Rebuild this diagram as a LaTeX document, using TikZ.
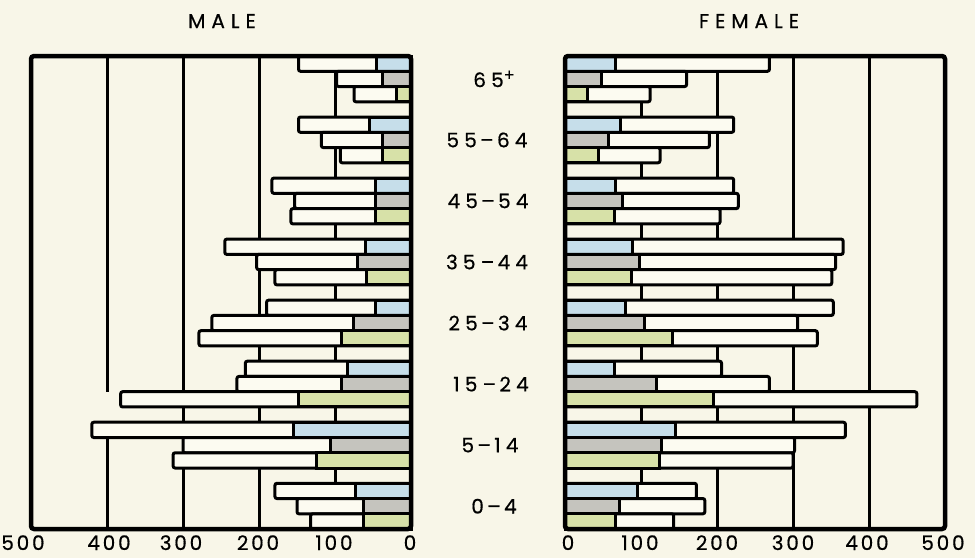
\documentclass[tikz,border=0pt]{standalone}
\usepackage{fontspec}
\setmainfont{Poppins}
\newfontfamily\chartfont[LetterSpace=14, FakeBold=0.6]{Poppins}
\newfontfamily\agefont[LetterSpace=26, FakeBold=0.6]{Poppins}
\newfontfamily\titlefont[LetterSpace=30, FakeBold=0.6]{Poppins}

\definecolor{paper}{RGB}{248,246,232}
\definecolor{barfill}{RGB}{252,251,241}
\definecolor{blueseg}{RGB}{198,222,234}
\definecolor{greyseg}{RGB}{197,196,190}
\definecolor{greenseg}{RGB}{215,225,168}

\tikzstyle{frame} = [line width=4.5pt, rounded corners=3pt, draw=black]
\tikzstyle{gridline} = [line width=3pt, draw=black]
\tikzstyle{bar} = [line width=3pt, rounded corners=2pt, draw=black, fill=barfill]
\tikzstyle{segment} = [line width=3pt, draw=black]
\tikzstyle{agelabel} = [font=\agefont\fontsize{20}{24}\selectfont, inner sep=0pt]
\tikzstyle{axislabel} = [font=\chartfont\fontsize{20}{24}\selectfont, inner sep=0pt, anchor=base]
\tikzstyle{title} = [font=\titlefont\fontsize{20}{24}\selectfont, inner sep=0pt, anchor=base]

\def\rowh{15.26}

\begin{document}
\begin{tikzpicture}[x=1pt, y=-1pt]
 \useasboundingbox[fill=paper] (0,0) rectangle (975,558);

 % grid lines, male side (0 at x=411)
 \foreach \v in {100,200,300}
  \draw[gridline] ({411-0.76*\v},56) -- ({411-0.76*\v},529);
 \draw[gridline] (107,56) -- (107,{56+22*\rowh});
 \draw[gridline] (107,{56+24*\rowh}) -- (107,529);
 % grid lines, female side (0 at x=565)
 \foreach \v in {100,200,300,400}
  \draw[gridline] ({565+0.76*\v},56) -- ({565+0.76*\v},529);

 % male bars: row / total / coloured part / colour
 \foreach \r/\t/\c/\col in {
   0/148/45/blueseg, 1/98/38/greyseg, 2/75/19/greenseg,
   4/148/54/blueseg, 5/118/38/greyseg, 6/93/38/greenseg,
   8/183/47/blueseg, 9/153/47/greyseg, 10/158/47/greenseg,
   12/245/60/blueseg, 13/203/70/greyseg, 14/179/58/greenseg,
   16/190/47/blueseg, 17/262/76/greyseg, 18/279/91/greenseg,
   20/218/84/blueseg, 21/229/91/greyseg, 22/382/148/greenseg,
   24/420/155/blueseg, 25/300/106/greyseg, 26/313/124/greenseg,
   28/179/73/blueseg, 29/150/63/greyseg, 30/132/63/greenseg} {
  \draw[bar] ({411-0.76*\t},{56+\r*\rowh}) rectangle (411,{56+(\r+1)*\rowh});
  \draw[segment, fill=\col] ({411-0.76*\c},{56+\r*\rowh}) rectangle (411,{56+(\r+1)*\rowh});
 }

 % female bars
 \foreach \r/\t/\c/\col in {
   0/269/66/blueseg, 1/160/48/greyseg, 2/112/30/greenseg,
   4/222/73/blueseg, 5/190/57/greyseg, 6/125/44/greenseg,
   8/222/67/blueseg, 9/228/75/greyseg, 10/204/65/greenseg,
   12/366/89/blueseg, 13/356/98/greyseg, 14/351/88/greenseg,
   16/353/79/blueseg, 17/306/104/greyseg, 18/332/141/greenseg,
   20/206/65/blueseg, 21/269/120/greyseg, 22/463/195/greenseg,
   24/369/145/blueseg, 25/302/127/greyseg, 26/300/124/greenseg,
   28/173/96/blueseg, 29/184/72/greyseg, 30/143/66/greenseg} {
  \draw[bar] (565,{56+\r*\rowh}) rectangle ({565+0.76*\t},{56+(\r+1)*\rowh});
  \draw[segment, fill=\col] (565,{56+\r*\rowh}) rectangle ({565+0.76*\c},{56+(\r+1)*\rowh});
 }

 % frames
 \draw[frame] (31,56) rectangle (411,529);
 \draw[frame] (565,56) rectangle (945,529);

 % titles
 \node (male) [title] at (222,28) {MALE};
 \node (female) [title] at (749,28) {FEMALE};

 % age groups
 \node (age65) [agelabel] at (494,{56+1.5*\rowh}) {65\raisebox{0.6ex}{\fontsize{16}{18}\selectfont+}};
 \node (age55) [agelabel] at (487,{56+5.5*\rowh}) {55\,–\,64};
 \node (age45) [agelabel] at (488,{56+9.5*\rowh}) {45\,–\,54};
 \node (age35) [agelabel] at (487,{56+13.5*\rowh}) {35–\,44};
 \node (age25) [agelabel] at (488,{56+17.5*\rowh}) {25\,–\,34};
 \node (age15) [agelabel] at (491,{56+21.5*\rowh}) {15–\,24};
 \node (age5) [agelabel] at (490,{56+25.5*\rowh}) {5\,–\,14};
 \node (age0) [agelabel] at (494,{56+29.5*\rowh}) {0\,–\,4};

 % scales
 \node (m500) [axislabel] at (23,550) {500};
 \node (m400) [axislabel] at (109,550) {400};
 \node (m300) [axislabel] at (181,550) {300};
 \node (m200) [axislabel] at (258,550) {200};
 \node (m100) [axislabel] at (334,550) {100};
 \node (m0) [axislabel] at (410,550) {0};
 \node (f0) [axislabel] at (568,550) {0};
 \node (f100) [axislabel] at (640,550) {100};
 \node (f200) [axislabel] at (717,550) {200};
 \node (f300) [axislabel] at (793,550) {300};
 \node (f400) [axislabel] at (867,550) {400};
 \node (f500) [axislabel] at (943,550) {500};
\end{tikzpicture}
\end{document}
